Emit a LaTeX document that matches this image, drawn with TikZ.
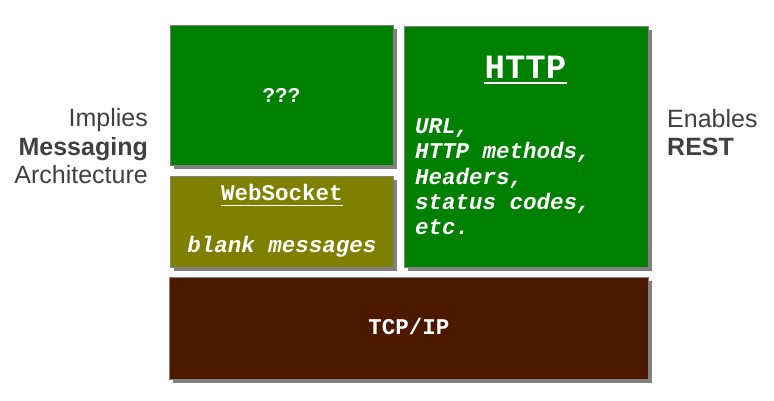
\documentclass[tikz,border=0pt]{standalone}
\usepackage{fontspec}
\setmainfont{Liberation Sans}
\newfontfamily\cour{Liberation Mono}
\usetikzlibrary{shadows}
\definecolor{boxgreen}{HTML}{008000}
\definecolor{boxolive}{HTML}{808000}
\definecolor{boxbrown}{HTML}{4C1900}
\definecolor{shadowgray}{HTML}{808080}
\definecolor{sidetext}{HTML}{404040}
\tikzset{
  layerbox/.style={draw=shadowgray, line width=1pt, inner sep=0pt, outer sep=0pt,
    drop shadow={shadow xshift=4pt, shadow yshift=-4pt, fill=shadowgray, opacity=1}},
  boxtext/.style={text=white, font=\cour\bfseries\fontsize{22.5}{26}\selectfont, inner sep=0pt},
  itext/.style={boxtext, anchor=base west, font=\cour\bfseries\itshape\fontsize{22.5}{26}\selectfont},
  sidelabel/.style={text=sidetext, font=\fontsize{25}{29}\selectfont, inner sep=0pt},
  uline/.style={white, line width=1.8pt}
}
\begin{document}
\begin{tikzpicture}[x=1pt,y=-1pt]
\useasboundingbox (0,0) rectangle (774,400);
% boxes
\node[layerbox, fill=boxgreen, minimum width=223pt, minimum height=140pt] (unk) at (281.5,95) {};
\node[layerbox, fill=boxgreen, minimum width=244pt, minimum height=241pt] (http) at (526,146.5) {};
\node[layerbox, fill=boxolive, minimum width=223pt, minimum height=91pt] (ws) at (281.5,221.5) {};
\node[layerbox, fill=boxbrown, minimum width=479pt, minimum height=102pt] (tcp) at (408.5,328) {};
% texts
\node[boxtext, anchor=center, font=\cour\bfseries\fontsize{21}{25}\selectfont] (unkt) at (281.5,95) {???};
\node[boxtext, anchor=base, font=\cour\bfseries\fontsize{34}{38}\selectfont] (httpt) at (525.5,78) {HTTP};
\draw[uline] ([yshift=-5pt]httpt.base west) -- ([yshift=-5pt]httpt.base east);
\node[itext] (h1) at (415,133) {URL,};
\node[itext] (h2) at (415,158.5) {HTTP methods,};
\node[itext] (h3) at (415,184) {Headers,};
\node[itext] (h4) at (415,209) {status codes,};
\node[itext] (h5) at (415,234) {etc.};
\node[boxtext, anchor=base] (wst) at (282,200) {WebSocket};
\draw[uline, line width=1.5pt] ([yshift=-5.5pt]wst.base west) -- ([yshift=-5.5pt]wst.base east);
\node[boxtext, anchor=base, font=\cour\bfseries\itshape\fontsize{22.5}{26}\selectfont] (wsb) at (282,252) {blank messages};
\node[boxtext, anchor=base, font=\cour\bfseries\fontsize{22.5}{26}\selectfont] (tcpt) at (409,334) {TCP/IP};
% side labels
\node[sidelabel, anchor=base east] (imp) at (148,126) {Implies};
\node[sidelabel, anchor=base east, font=\bfseries\fontsize{25}{29}\selectfont] (msg) at (148,155) {Messaging};
\node[sidelabel, anchor=base east] (arch) at (148,183) {Architecture};
\node[sidelabel, anchor=base west] (en) at (667,127) {Enables};
\node[sidelabel, anchor=base west, font=\bfseries\fontsize{25}{29}\selectfont] (rest) at (667,155) {REST};
\end{tikzpicture}
\end{document}
